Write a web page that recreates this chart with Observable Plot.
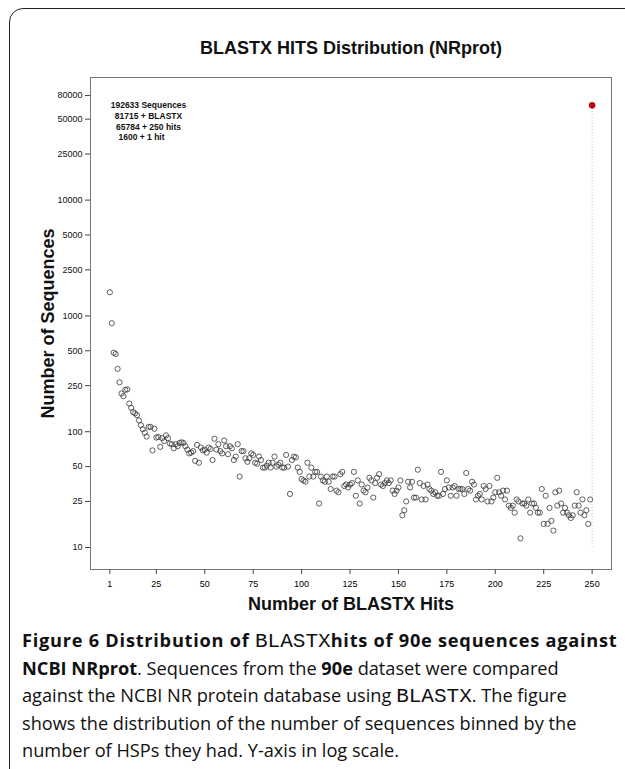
<!DOCTYPE html>
<html>
<head>
<meta charset="utf-8">
<script src="https://cdn.jsdelivr.net/npm/d3@7"></script>
<script src="https://cdn.jsdelivr.net/npm/@observablehq/plot@0.6"></script>
<style>
  html, body { margin: 0; padding: 0; background: #fff; width: 625px; height: 769px; overflow: hidden; }
  #border { position: absolute; left: 9px; top: 8px; width: 700px; height: 790px; border: 1px solid #222; border-radius: 14px; }
  #chart { position: absolute; left: 0; top: 0; }
  #caption { position: absolute; left: 22px; top: 627px; font-family: "Open Sans", sans-serif; font-size: 18.2px; line-height: 27px; color: #111; white-space: nowrap; }
  #caption b { font-weight: 700; }
  #caption b.wide { letter-spacing: 0.75px; }
  #caption .mono { font-family: "Liberation Mono", "DejaVu Sans Mono", monospace; font-size: 21px; }
</style>
</head>
<body>
<div id="border"></div>
<div id="chart"></div>
<div id="caption">
<b class="wide">Figure 6 Distribution of </b><span class="mono">BLASTX</span><b class="wide">hits of 90e sequences against</b><br>
<b>NCBI NRprot</b>. Sequences from the <b>90e</b> dataset were compared<br>
against the NCBI NR protein database using <span class="mono">BLASTX</span>. The figure<br>
shows the distribution of the number of sequences binned by the<br>
number of HSPs they had. Y-axis in log scale.
</div>
<script>
// Number of sequences for 1..249 BLASTX hits
const counts = [
  1600, 865, 481, 469, 349, 267, 214, 203, 230, 232,
  175, 161, 148, 144, 139, 125, 114, 105, 98, 91,
  110, 110, 69, 106, 89, 90, 74, 88, 83, 93,
  88, 79, 78, 72, 78, 75, 80, 81, 80, 75,
  70, 65, 66, 68, 56, 77, 54, 73, 69, 70,
  66, 73, 71, 57, 87, 70, 78, 68, 65, 84,
  75, 64, 75, 72, 57, 61, 78, 41, 68, 68,
  59, 55, 59, 65, 63, 54, 53, 61, 57, 49,
  49, 51, 54, 49, 54, 61, 50, 52, 54, 49,
  49, 63, 50, 29, 57, 61, 60, 49, 45, 39,
  38, 37, 54, 41, 49, 41, 45, 45, 24, 41,
  38, 37, 41, 37, 32, 41, 41, 31, 30, 43,
  45, 34, 35, 33, 35, 36, 45, 28, 38, 24,
  35, 31, 30, 33, 40, 38, 27, 36, 40, 43,
  35, 34, 36, 38, 36, 38, 31, 29, 31, 33,
  38, 19, 21, 25, 37, 33, 37, 27, 27, 47,
  36, 26, 34, 26, 35, 32, 31, 29, 30, 28,
  28, 45, 29, 32, 38, 33, 28, 33, 34, 28,
  32, 32, 32, 29, 44, 32, 31, 37, 35, 26,
  28, 29, 26, 34, 32, 25, 34, 25, 27, 30,
  40, 30, 28, 31, 26, 31, 23, 22, 23, 20,
  26, 25, 12, 24, 24, 23, 26, 20, 24, 24,
  22, 20, 20, 32, 16, 28, 16, 22, 17, 14,
  30, 23, 31, 24, 20, 22, 20, 19, 18, 19,
  23, 30, 23, 20, 26, 19, 21, 16, 26
];
// 250+ hits bin
const overflowHits = 250;
const overflowCount = 65784;

const xTicks = [1, 25, 50, 75, 100, 125, 150, 175, 200, 225, 250];
const yTicks = [10, 25, 50, 100, 250, 500, 1000, 2500, 5000, 10000, 25000, 50000, 80000];

const titleText = "BLASTX HITS Distribution (NRprot)";
const xLabel = "Number of BLASTX Hits";
const yLabel = "Number of Sequences";
const annotLines = ["192633 Sequences", "81715 + BLASTX", "65784 + 250 hits", "1600 + 1 hit"];

const points = counts.map((c, i) => ({hits: i + 1, count: c}));
const overflow = [{hits: overflowHits, count: overflowCount}];

const chart = Plot.plot({
  width: 625,
  height: 625,
  marginLeft: 90,
  marginRight: 14,
  marginTop: 77,
  marginBottom: 56,
  style: {fontFamily: "'Liberation Sans', Arial, sans-serif", background: "transparent", color: "#000", overflow: "visible"},
  x: {domain: [-9, 260]},
  y: {type: "log", domain: [6.46, 114500]},
  marks: [
    Plot.frame({stroke: "#777", strokeWidth: 1}),
    Plot.axisY(yTicks, {tickFormat: () => "", tickSize: 5, label: null, stroke: "#444"}),
    Plot.text(yTicks, {y: d => d, text: d => String(d), frameAnchor: "left", dx: -8, textAnchor: "end", fontSize: 9, fill: "#111"}),
    Plot.axisX(xTicks, {tickFormat: d => String(d), tickSize: 5, tickPadding: 6, fontSize: 9, label: null, stroke: "#444"}),
    Plot.ruleX(overflow, {x: "hits", y1: 10, y2: "count", stroke: "#f2a0c8", strokeWidth: 1, strokeDasharray: "1,2"}),
    Plot.dot(points, {x: "hits", y: "count", r: 2.6, stroke: "#383838", strokeWidth: 0.8, fill: "none"}),
    Plot.dot(overflow, {x: "hits", y: "count", r: 3, fill: "#cc0000", stroke: "#880000", strokeWidth: 0.6}),
    Plot.text([titleText], {frameAnchor: "top", dy: -29, text: d => d, fontSize: 18, fontWeight: "bold", textAnchor: "middle", lineAnchor: "middle", fill: "#111"}),
    Plot.text([xLabel], {frameAnchor: "bottom", dy: 35, text: d => d, fontSize: 18, fontWeight: "bold", textAnchor: "middle", lineAnchor: "middle", fill: "#111"}),
    Plot.text([yLabel], {frameAnchor: "left", dx: -42, text: d => d, fontSize: 18, fontWeight: "bold", rotate: -90, textAnchor: "middle", lineAnchor: "middle", fill: "#111"}),
    Plot.text([annotLines.slice(0, 3).join("\n")], {frameAnchor: "top-left", dx: 58, dy: 23, text: d => d, fontSize: 8.5, fontWeight: "bold", textAnchor: "middle", lineAnchor: "top", lineHeight: 1.3, fill: "#111"}),
    Plot.text([annotLines[3]], {frameAnchor: "top-left", dx: 51, dy: 56, text: d => d, fontSize: 8.5, fontWeight: "bold", textAnchor: "middle", lineAnchor: "top", fill: "#111"})
  ]
});
document.getElementById("chart").appendChild(chart);
</script>
</body>
</html>
